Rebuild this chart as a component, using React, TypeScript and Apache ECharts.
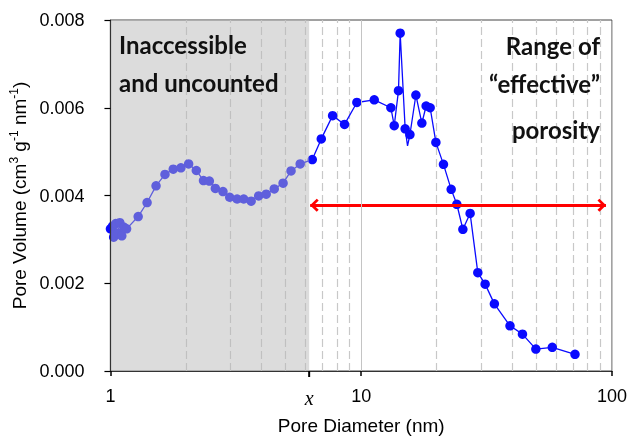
import React, { useEffect, useRef } from "react";
import * as echarts from "echarts";

// ---- data ----
const diameters = [
  1.0, 1.02, 1.03, 1.05, 1.07, 1.09, 1.11, 1.13, 1.16, 1.29, 1.4, 1.52, 1.65, 1.78, 1.91, 2.05, 2.2,
  2.35, 2.48, 2.62, 2.81, 2.99, 3.2, 3.4, 3.64, 3.9, 4.18, 4.5, 4.88, 5.25, 5.71, 6.38, 6.93, 7.69,
  8.58, 9.61, 11.27, 13.13, 13.54, 14.08, 14.3, 14.97, 15.3, 15.64, 16.52, 17.45, 18.15, 18.83,
  19.85, 21.28, 22.84, 24.06, 25.43, 27.18, 29.17, 31.2, 33.96, 39.2, 43.95, 49.7, 57.8, 71.2,
];
const volumes = [
  0.00324, 0.0033, 0.00305, 0.00336, 0.00314, 0.00338, 0.00308, 0.00328, 0.00324, 0.00352, 0.00384,
  0.00422, 0.00448, 0.0046, 0.00463, 0.00472, 0.00457, 0.00434, 0.00433, 0.00416, 0.00409, 0.00396,
  0.00392, 0.00392, 0.00387, 0.00399, 0.00403, 0.00415, 0.00428, 0.00456, 0.00472, 0.00482, 0.00529,
  0.00582, 0.00562, 0.00612, 0.00618, 0.006, 0.00559, 0.00639, 0.0077, 0.00552, 0.00513, 0.00539,
  0.00629, 0.00565, 0.00604, 0.006, 0.00521, 0.00471, 0.00414, 0.0038, 0.00323, 0.00359, 0.00224,
  0.00198, 0.00153, 0.00103, 0.00084, 0.0005, 0.00054, 0.00038,
];
const markerlessDiameters = [15.3];
const dashedGridValues = [2, 3, 4, 5, 6, 7, 8, 9, 20, 30, 40, 50, 60, 70, 80, 90];
const cutoffDiameter = 6.2; // "x"
const arrowFrom = 6.26;
const arrowTo = 94.6;
const arrowLevel = 0.00378;
const xMin = 1;
const xMax = 100;
const yMin = 0;
const yMax = 0.008;
const yStep = 0.002;

const AXIS_FONT = "'Liberation Sans', Arial, sans-serif";
const NOTE_FONT = "Lato, 'Open Sans', sans-serif";
const BLUE = "#0a0aff";

const chevron =
  "path://M6,-8 L6,-8 Z M6,0 L12.5,6.5 L10.6,8.4 L6,3.8 L1.4,8.4 L-0.5,6.5 Z";

export default function App() {
  const ref = useRef<HTMLDivElement>(null);
  useEffect(() => {
    if (!ref.current) return;
    const chart = echarts.init(ref.current, undefined, { renderer: "svg" });
    const data = diameters.map((d, i) => {
      if (markerlessDiameters.includes(d)) {
        return { value: [d, volumes[i]], symbol: "none" };
      }
      return { value: [d, volumes[i]] };
    });
    const noteStyle = (extra: any) => ({
      fontFamily: NOTE_FONT,
      fontWeight: "bold",
      fontSize: 24,
      fill: "#111",
      ...extra,
    });
    chart.setOption({
      animation: false,
      grid: {
        left: 110,
        top: 20,
        right: 19,
        bottom: 69,
        show: true,
        borderColor: "#444",
        borderWidth: 1,
        backgroundColor: "transparent",
      },
      xAxis: {
        type: "log",
        logBase: 10,
        min: xMin,
        max: xMax,
        z: 10,
        name: "Pore Diameter (nm)",
        nameLocation: "middle",
        nameGap: 45,
        nameTextStyle: { fontFamily: AXIS_FONT, fontSize: 19, color: "#000" },
        axisLine: { lineStyle: { color: "#333", width: 1.2 } },
        axisTick: { show: true, inside: false, length: 5, lineStyle: { color: "#000", width: 1.5 } },
        axisLabel: { fontFamily: AXIS_FONT, fontSize: 18, color: "#000", margin: 16 },
        splitLine: { show: true, lineStyle: { color: "#c4c4c4", width: 1 } },
      },
      yAxis: {
        type: "value",
        min: yMin,
        max: yMax,
        interval: yStep,
        z: 10,
        name: "Pore Volume (cm{sup|3} g{sup|-1} nm{sup|-1})",
        nameLocation: "middle",
        nameGap: 76,
        nameTextStyle: {
          fontFamily: AXIS_FONT,
          fontSize: 19,
          color: "#000",
          rich: {
            sup: { fontFamily: AXIS_FONT, fontSize: 12, color: "#000", verticalAlign: "top", padding: [0, 0, 10, 0] },
          },
        },
        axisLine: { show: true, lineStyle: { color: "#333", width: 1.2 } },
        axisTick: { show: true, inside: false, length: 6, lineStyle: { color: "#000", width: 1.2 } },
        axisLabel: {
          fontFamily: AXIS_FONT,
          fontSize: 18,
          color: "#000",
          margin: 26,
          formatter: (v: number) => v.toFixed(3),
        },
        splitLine: { show: false },
      },
      graphic: [
        { type: "text", z: 100, left: 119, top: 32, style: noteStyle({ text: "Inaccessible" }) },
        { type: "text", z: 100, left: 119, top: 70, style: noteStyle({ text: "and uncounted" }) },
        { type: "text", z: 100, right: 31, top: 33, style: noteStyle({ text: "Range of", textAlign: "right" }) },
        { type: "text", z: 100, right: 31, top: 71, style: noteStyle({ text: "\u201Ceffective\u201D", textAlign: "right" }) },
        { type: "text", z: 100, right: 31, top: 117, style: noteStyle({ text: "porosity", textAlign: "right" }) },
      ],
      series: [
        {
          type: "line",
          name: "grid",
          data: [],
          z: 1,
          silent: true,
          markLine: {
            z: 1,
            silent: true,
            symbol: "none",
            animation: false,
            label: { show: false },
            lineStyle: { color: "#c8c8c8", type: [8, 4], width: 1.2 },
            data: dashedGridValues.map((v) => ({ xAxis: v })),
          },
        },
        {
          type: "line",
          name: "pore",
          data,
          z: 2,
          symbol: "circle",
          symbolSize: 9.5,
          showAllSymbol: true,
          clip: false,
          lineStyle: { color: BLUE, width: 1.3 },
          itemStyle: { color: BLUE },
        },
        {
          type: "line",
          name: "overlay",
          data: [],
          z: 5,
          silent: true,
          markArea: {
            z: 5,
            silent: true,
            itemStyle: { color: "rgba(184,184,184,0.49)" },
            label: { show: false },
            data: [[{ xAxis: xMin }, { xAxis: cutoffDiameter }]],
          },
        },
        {
          type: "line",
          name: "arrow",
          data: [],
          z: 6,
          silent: true,
          markLine: {
            z: 6,
            silent: true,
            animation: false,
            symbol: [chevron, chevron],
            symbolSize: [13, 17],
            label: { show: false },
            lineStyle: { color: "#ff0000", width: 3, type: "solid" },
            itemStyle: { color: "#ff0000" },
            data: [[{ coord: [arrowFrom, arrowLevel] }, { coord: [arrowTo, arrowLevel] }]],
          },
          markPoint: {
            z: 11,
            silent: true,
            animation: false,
            data: [
              {
                coord: [cutoffDiameter, yMin],
                symbol: "rect",
                symbolSize: [2, 6],
                symbolOffset: [0, 3],
                itemStyle: { color: "#000" },
                label: {
                  show: true,
                  position: "bottom",
                  distance: 11,
                  formatter: "x",
                  fontFamily: "'Liberation Serif', 'DejaVu Serif', serif",
                  fontStyle: "italic",
                  fontSize: 20,
                  color: "#000",
                },
              },
            ],
          },
        },
      ],
    });
    return () => chart.dispose();
  }, []);
  return <div ref={ref} style={{ position: "fixed", left: 0, top: 0, width: 631, height: 440 }} />;
}
